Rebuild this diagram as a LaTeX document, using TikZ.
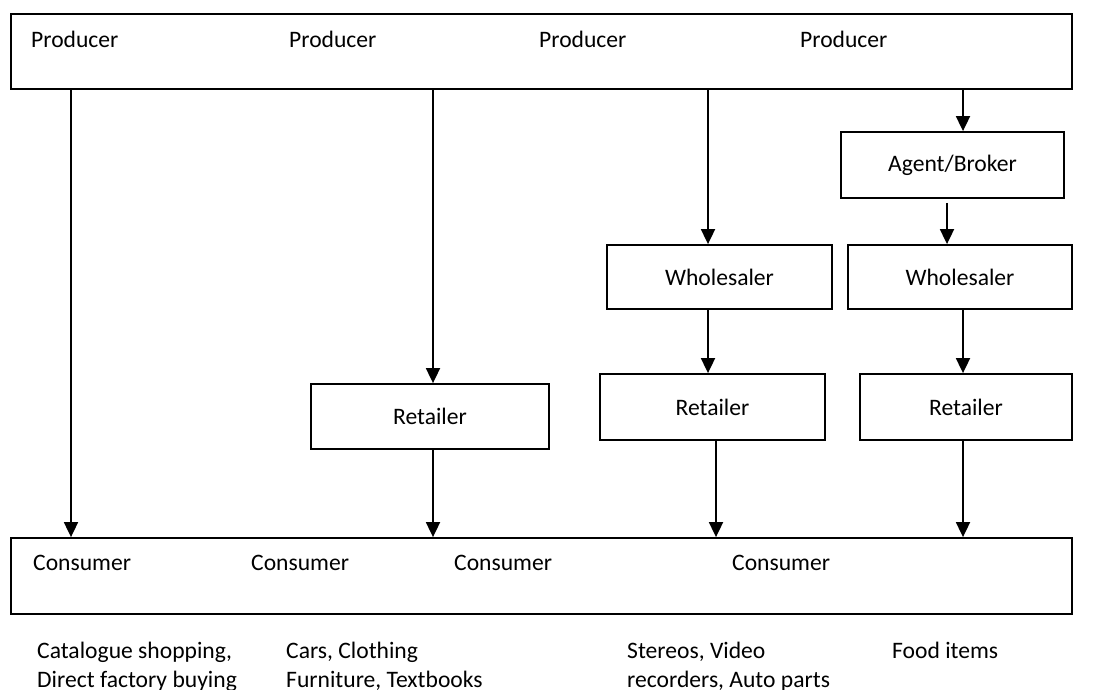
\documentclass[tikz,border=0pt]{standalone}
\usepackage{fontspec}
\setmainfont{Carlito}
\usetikzlibrary{arrows.meta}
\begin{document}
\begin{tikzpicture}[x=1pt,y=-1pt,
  every node/.style={font=\fontsize{23.6}{29}\selectfont, inner sep=0pt},
  box/.style={draw, line width=1.8pt},
  arr/.style={line width=1.8pt, -{Triangle[length=15pt,width=14pt]}},
  lbl/.style={anchor=base west},
  note/.style={anchor=north west, align=left}]
\useasboundingbox (0,0) rectangle (1100,689);

% channel boxes
\node[box, minimum width=1061pt, minimum height=75pt] (prod) at (541.5,51.5) {};
\node[box, minimum width=1061pt, minimum height=76pt] (cons) at (541.5,576) {};
\node[box, minimum width=238pt, minimum height=65pt] (ret1) at (430,416.5) {Retailer};
\node[box, minimum width=225pt, minimum height=64pt] (whl1) at (719.5,277) {Wholesaler};
\node[box, minimum width=225pt, minimum height=66pt] (ret2) at (712.5,407) {Retailer};
\node[box, minimum width=223pt, minimum height=66pt] (agent) at (952.5,165) {Agent/Broker};
\node[box, minimum width=224pt, minimum height=64pt] (whl2) at (960,277) {Wholesaler};
\node[box, minimum width=212pt, minimum height=66pt] (ret3) at (966,407) {Retailer};

% labels inside the top and bottom bars
\node[lbl] (p1) at (31,47) {Producer};
\node[lbl] (p2) at (289,47) {Producer};
\node[lbl] (p3) at (539,47) {Producer};
\node[lbl] (p4) at (800,47) {Producer};
\node[lbl] (c1) at (33,570) {Consumer};
\node[lbl] (c2) at (251,570) {Consumer};
\node[lbl] (c3) at (454,570) {Consumer};
\node[lbl] (c4) at (732,570) {Consumer};

% example products for each channel
\node[note] (e1) at (37,642) {Catalogue shopping,\\Direct factory buying};
\node[note] (e2) at (286,642) {Cars, Clothing\\Furniture, Textbooks};
\node[note] (e3) at (627,642) {Stereos, Video\\recorders, Auto parts};
\node[note] (e4) at (892,642) {Food items};

% vertical lanes of the channels
\coordinate (l1) at (71,0);
\coordinate (l2) at (433,0);
\coordinate (l3) at (708,0);
\coordinate (l3b) at (716,0);
\coordinate (l4) at (963,0);
\coordinate (l4b) at (947,0);

\draw[arr] (prod.south -| l1) -- (cons.north -| l1);
\draw[arr] (prod.south -| l2) -- (ret1.north -| l2);
\draw[arr] (ret1.south -| l2) -- (cons.north -| l2);
\draw[arr] (prod.south -| l3) -- (whl1.north -| l3);
\draw[arr] (whl1.south -| l3) -- (ret2.north -| l3);
\draw[arr] (ret2.south -| l3b) -- (cons.north -| l3b);
\draw[arr] (prod.south -| l4) -- (agent.north -| l4);
\draw[arr, shorten <=4pt] (agent.south -| l4b) -- (whl2.north -| l4b);
\draw[arr] (whl2.south -| l4) -- (ret3.north -| l4);
\draw[arr] (ret3.south -| l4) -- (cons.north -| l4);
\end{tikzpicture}
\end{document}
